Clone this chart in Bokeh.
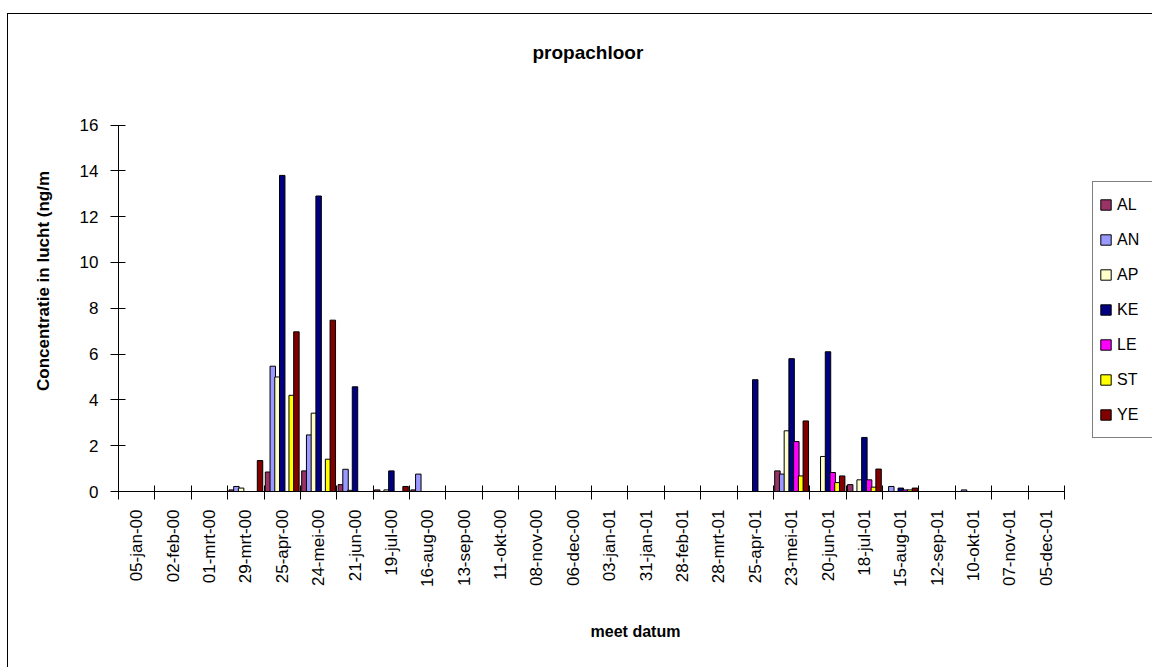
import numpy as np
from bokeh.plotting import figure
from bokeh.models import (ColumnDataSource, Range1d, FixedTicker, Legend, LegendItem)
from bokeh.embed import file_html
from bokeh.resources import INLINE

# ---- data ----
dates = ["05-jan-00", "02-feb-00", "01-mrt-00", "29-mrt-00", "25-apr-00", "24-mei-00",
         "21-jun-00", "19-jul-00", "16-aug-00", "13-sep-00", "11-okt-00", "08-nov-00",
         "06-dec-00", "03-jan-01", "31-jan-01", "28-feb-01", "28-mrt-01", "25-apr-01",
         "23-mei-01", "20-jun-01", "18-jul-01", "15-aug-01", "12-sep-01", "10-okt-01",
         "07-nov-01", "05-dec-01"]

AL = [0, 0, 0, 0.07, 0.85, 0.90, 0.30, 0.07, 0.07, 0, 0, 0, 0, 0, 0, 0, 0, 0, 0.90, 0, 0.30, 0, 0, 0, 0, 0]
AN = [0, 0, 0, 0.22, 5.47, 2.47, 0.97, 0, 0.76, 0, 0, 0, 0, 0, 0, 0, 0, 0, 0.76, 0, 0, 0.22, 0, 0.07, 0, 0]
AP = [0, 0, 0, 0.15, 5.00, 3.42, 0.05, 0.07, 0, 0, 0, 0, 0, 0, 0, 0, 0, 0, 2.65, 1.53, 0.51, 0, 0, 0, 0, 0]
KE = [0, 0, 0, 0, 13.80, 12.90, 4.57, 0.90, 0, 0, 0, 0, 0, 0, 0, 0, 0, 4.88, 5.80, 6.10, 2.36, 0.15, 0, 0, 0, 0]
LE = [0, 0, 0, 0, 0, 0, 0, 0, 0, 0, 0, 0, 0, 0, 0, 0, 0, 0, 2.18, 0.83, 0.51, 0.07, 0, 0, 0, 0]
ST = [0, 0, 0, 0, 4.20, 1.41, 0, 0, 0, 0, 0, 0, 0, 0, 0, 0, 0, 0, 0.68, 0.39, 0.19, 0.07, 0, 0, 0, 0]
YE = [0, 0, 0, 1.35, 6.97, 7.48, 0, 0.22, 0, 0, 0, 0, 0, 0, 0, 0, 0, 0, 3.08, 0.68, 0.98, 0.15, 0, 0, 0, 0]

series_names = ["AL", "AN", "AP", "KE", "LE", "ST", "YE"]
series_values = [AL, AN, AP, KE, LE, ST, YE]
series_colors = ["#993366", "#9999FF", "#FFFFCC", "#000080", "#FF00FF", "#FFFF00", "#800000"]

y_ticks = [0, 2, 4, 6, 8, 10, 12, 14, 16]
y_max = 16

FONT = "Liberation Sans"

n = len(dates)
centers = np.arange(n) + 0.5

# ---- layout (pixels) ----
axes_w = 946.0      # width of the category axis
axes_h = 366.5      # height of the value axis
frame_w = 1034      # frame runs on to the right edge (legend is cut there)
frame_h = 421       # frame runs up above the value axis (room for title)
x_end = n * frame_w / axes_w
y_end = y_max * frame_h / axes_h

p = figure(output_backend="svg", toolbar_location=None,
           x_range=Range1d(0, x_end), y_range=Range1d(0, y_end),
           min_border_left=110, min_border_top=56, min_border_bottom=176,
           min_border_right=0)
p.frame_width = frame_w
p.frame_height = frame_h
p.margin = (13, 0, 0, 7)
p.styles = {"border-left": "1px solid black", "border-top": "1px solid black"}
p.outline_line_color = None
p.xgrid.grid_line_color = None
p.ygrid.grid_line_color = None
p.background_fill_color = "white"
p.border_fill_color = "white"

step = 0.13
bw = 0.15
items = []
for k, (name, vals, col) in enumerate(zip(series_names, series_values, series_colors)):
    src = ColumnDataSource(dict(x=centers + (k - 3) * step, top=vals))
    r = p.vbar(x="x", top="top", bottom=0, width=bw, source=src,
               fill_color=col, line_color="black", line_width=1)
    items.append(LegendItem(label=name, renderers=[r]))

legend = Legend(items=items, location=(974, 53))
legend.label_text_font = FONT
legend.label_text_font_size = "16px"
legend.label_text_color = "black"
legend.glyph_width = 13
legend.glyph_height = 13
legend.label_height = 33
legend.label_width = 50
legend.label_standoff = 5
legend.spacing = 2
legend.padding = 6
legend.margin = 0
legend.border_line_color = "black"
legend.border_line_width = 1
legend.background_fill_color = "white"
legend.background_fill_alpha = 1
p.add_layout(legend, "center")

# title
p.title.text = "propachloor"
p.title.align = "left"
p.title.offset = 414
p.title.text_font = FONT
p.title.text_font_size = "19px"
p.title.text_font_style = "bold"
p.title.text_color = "black"
p.title.standoff = 16

# x axis
xa = p.xaxis[0]
xa.bounds = (0, n)
xa.ticker = FixedTicker(ticks=list(centers), minor_ticks=list(np.arange(n + 1)))
xa.major_label_overrides = {float(c): d for c, d in zip(centers, dates)}
xa.major_label_orientation = np.pi / 2
xa.major_tick_in = 0
xa.major_tick_out = 0
xa.minor_tick_in = 6
xa.minor_tick_out = 8
xa.minor_tick_line_color = "black"
xa.axis_line_color = "black"
xa.major_label_standoff = 10
xa.major_label_text_font = FONT
xa.major_label_text_font_size = "17px"
xa.major_label_text_color = "black"
xa.axis_label = "meet datum"
xa.axis_label_text_font = FONT
xa.axis_label_text_font_size = "16px"
xa.axis_label_text_font_style = "bold"
xa.axis_label_text_color = "black"
xa.axis_label_standoff = 33

# y axis
ya = p.yaxis[0]
ya.bounds = (0, y_max)
ya.ticker = FixedTicker(ticks=y_ticks, minor_ticks=[])
ya.major_tick_in = 7
ya.major_tick_out = 8
ya.minor_tick_in = 0
ya.minor_tick_out = 0
ya.major_tick_line_color = "black"
ya.axis_line_color = "black"
ya.major_label_standoff = 12
ya.major_label_text_font = FONT
ya.major_label_text_font_size = "17px"
ya.major_label_text_color = "black"
ya.axis_label = "Concentratie in lucht (ng/m"
ya.axis_label_text_font = FONT
ya.axis_label_text_font_size = "17px"
ya.axis_label_text_font_style = "bold"
ya.axis_label_text_color = "black"
ya.axis_label_standoff = 24

open("out.html", "w").write(file_html(p, INLINE))
